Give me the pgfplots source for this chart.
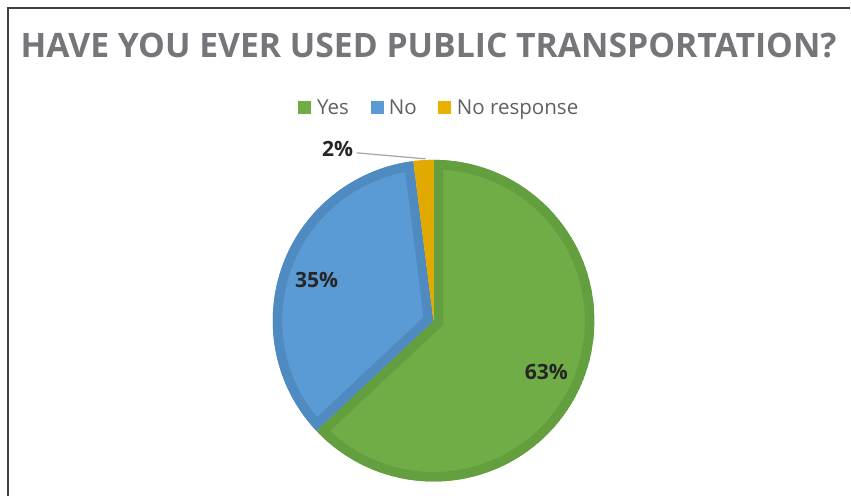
\documentclass[border=0pt]{standalone}
\usepackage{fontspec}
\setmainfont{Open Sans}
\usepackage{pgfplots}
\usepackage{pgfplotstable}
\pgfplotsset{compat=1.18}

\definecolor{yesfill}{RGB}{112,173,71}
\definecolor{yesedge}{RGB}{99,159,63}
\definecolor{nofill}{RGB}{91,155,213}
\definecolor{noedge}{RGB}{79,139,192}
\definecolor{nrfill}{RGB}{234,176,0}
\definecolor{nredge}{RGB}{226,170,0}
\definecolor{titlegray}{RGB}{117,118,121}
\definecolor{legendgray}{RGB}{96,96,96}
\definecolor{labeldark}{RGB}{38,38,38}
\definecolor{framegray}{RGB}{62,62,72}

% share of answers, in percent
\pgfplotstableread{
answer value
Yes 63
No 35
NoResponse 2
}\piedata

% one wedge: start angle, end angle, fill, edge
\newcommand{\slice}[4]{%
  \begin{scope}
    \clip (axis cs:434,176) -- ++(#1:\R) arc[start angle=#1, end angle=#2, radius=\R] -- cycle;
    \fill[#3] (axis cs:434,176) -- ++(#1:\R) arc[start angle=#1, end angle=#2, radius=\R] -- cycle;
    \draw[#4, line width=0.38cm, line join=miter] (axis cs:434,176) -- ++(#1:\R) arc[start angle=#1, end angle=#2, radius=\R] -- cycle;
  \end{scope}}

\begin{document}
\begin{tikzpicture}
  \pgfplotstablegetelem{0}{value}\of\piedata \let\vYes\pgfplotsretval
  \pgfplotstablegetelem{1}{value}\of\piedata \let\vNo\pgfplotsretval
  \pgfplotstablegetelem{2}{value}\of\piedata \let\vNR\pgfplotsretval
  \pgfmathsetmacro{\aA}{90}
  \pgfmathsetmacro{\aB}{\aA-3.6*\vYes}
  \pgfmathsetmacro{\aC}{\aB-3.6*\vNo}
  \pgfmathsetmacro{\aD}{\aC-3.6*\vNR}
  \def\R{3.22cm}
  \begin{axis}[
    x=0.02cm, y=0.02cm,
    xmin=0, xmax=851, ymin=0, ymax=497,
    enlargelimits=false,
    xtick=\empty, ytick=\empty,
    axis lines=none,
    clip=false,
  ]
  \path (axis cs:0,0) rectangle (axis cs:851,497);
  % frame
  \draw[framegray, line width=0.035cm] (axis cs:8,0) -- (axis cs:8,489) -- (axis cs:851,489);

  % title
  \node[anchor=base, inner sep=0, text=titlegray, font=\bfseries\fontsize{19.2}{23}\selectfont]
    at (axis cs:429,439) {HAVE YOU EVER USED PUBLIC TRANSPORTATION?};

  % legend
  \fill[yesfill] (axis cs:298,383) rectangle (axis cs:311,396);
  \node[anchor=base west, inner sep=0, text=legendgray, font=\fontsize{11.7}{14}\selectfont]
    at (axis cs:317,382) {Yes};
  \fill[nofill] (axis cs:371,383) rectangle (axis cs:384,396);
  \node[anchor=base west, inner sep=0, text=legendgray, font=\fontsize{11.7}{14}\selectfont]
    at (axis cs:389,382) {No};
  \fill[nrfill] (axis cs:438,383) rectangle (axis cs:451,396);
  \node[anchor=base west, inner sep=0, text=legendgray, font=\fontsize{11.7}{14}\selectfont]
    at (axis cs:457,382) {No response};

  % pie
  \slice{\aA}{\aB}{yesfill}{yesedge}
  \slice{\aB}{\aC}{nofill}{noedge}
  \slice{\aC}{\aD}{nrfill}{nredge}

  % data labels
  \draw[gray!70, line width=0.025cm] (axis cs:357,344) -- (axis cs:426,338);
  \node[text=labeldark, font=\bfseries\fontsize{12}{15}\selectfont] at (axis cs:547,125) {63\%};
  \node[text=labeldark, font=\bfseries\fontsize{12}{15}\selectfont] at (axis cs:317,217) {35\%};
  \node[text=labeldark, font=\bfseries\fontsize{12}{15}\selectfont] at (axis cs:338,348) {2\%};
  \end{axis}
\end{tikzpicture}
\end{document}
